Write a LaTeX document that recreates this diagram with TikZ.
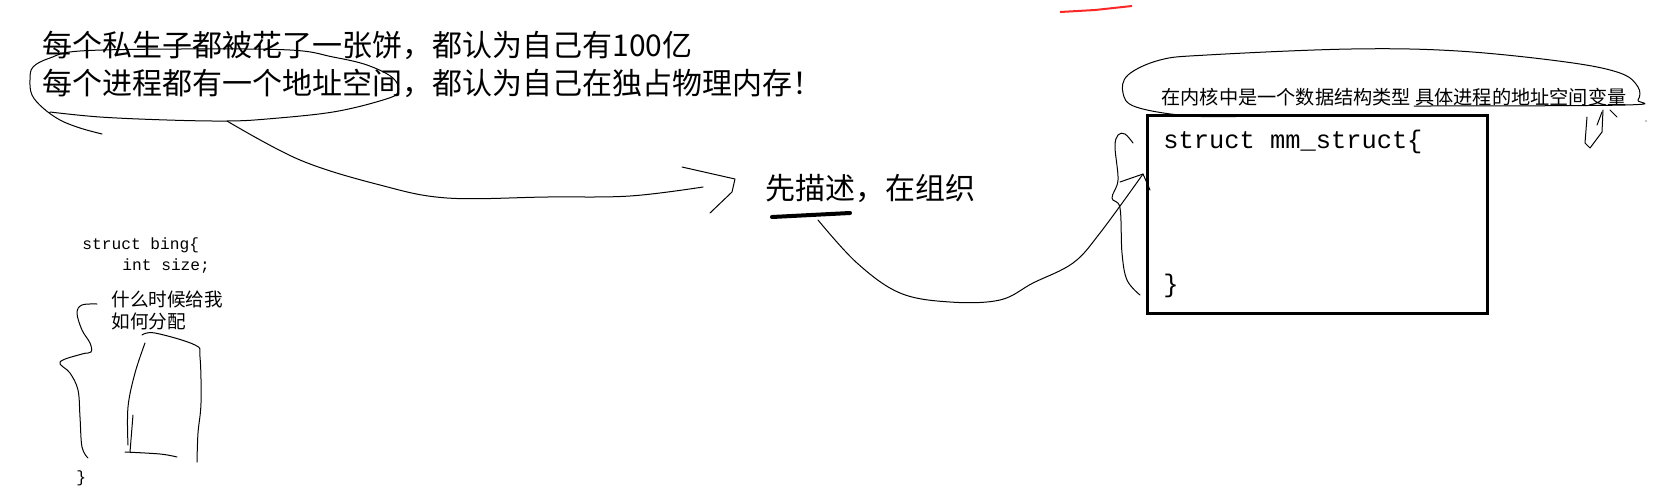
\documentclass[tikz,border=0pt]{standalone}
\usepackage{fontspec}
\setmonofont{Liberation Mono}
\newfontfamily\cjk{Noto Sans CJK SC}

\newcommand*{\picw}{1661}
\newcommand*{\pich}{494}

\begin{document}
\begin{tikzpicture}
[
	x=0.5pt, y=-0.5pt,
	pen/.style={line width=0.5pt, line cap=round, line join=round},
	bigtext/.style={anchor=west, inner sep=0pt, font=\cjk\fontsize{15}{18}\selectfont},
	smalltext/.style={anchor=west, inner sep=0pt, font=\cjk\fontsize{9.3}{11}\selectfont},
	codetext/.style={anchor=west, inner sep=0pt, font=\ttfamily\fontsize{12.7}{15}\selectfont},
	smallcode/.style={anchor=west, inner sep=0pt, font=\ttfamily\fontsize{8.1}{10}\selectfont}
]
	\useasboundingbox (0,0) rectangle (\picw,\pich);

	% sentences
	\node[bigtext] (cake) at (42,45) {每个私生子都被花了一张饼，都认为自己有100亿};
	\node[bigtext] (vspace) at (42,83) {每个进程都有一个地址空间，都认为自己在独占物理内存！};
	\node[bigtext] (order) at (765,188) {先描述，在组织};
	\draw[line width=2pt, line cap=round] (772,217) -- (850,213);

	% bubble round the second sentence
	\draw[pen] plot[smooth, tension=0.6] coordinates {
		(102,134) (80,128) (60,120) (43,108) (32,95) (30,80) (33,67) (50,58)
		(80,51) (180,49) (290,50) (333,57) (367,65) (393,78) (398,92) (383,100)
		(333,112) (267,119) (227,121) (167,120) (100,117) (50,112)};
	\coordinate (bubblefoot) at (227,121);
	\coordinate (ordertip) at (735,179);
	\draw[pen] plot[smooth, tension=0.6] coordinates {
		(bubblefoot) (300,160) (380,185) (447,198) (547,197) (630,196) (703,187)};
	\draw[pen] (682,167) -- (ordertip) -- (732,192) -- (710,213);

	% kernel struct
	\node[draw, line width=1.6pt, minimum width=170pt, minimum height=99pt,
		anchor=north west, inner sep=0pt] (mmbox) at (1146,114) {};
	\node[codetext] (mmhead) at (1163,142) {struct mm\_struct\{};
	\node[codetext] (mmtail) at (1163,286) {\}};
	\node[smalltext, font=\cjk\fontsize{9.6}{11}\selectfont] (kernel) at (1161,97)
		{在内核中是一个数据结构类型 具体进程的地址空间变量};

	\draw[pen] plot[smooth, tension=0.6] coordinates {
		(1258,116) (1190,116) (1136,107) (1123,93) (1128,75) (1160,60) (1207,55)
		(1351,49) (1458,51) (1566,62) (1620,73) (1638,87) (1638,100) (1625,105)
		(1414,106)};
	\draw[pen] (1587,117) -- (1585,143) -- (1590,148) -- (1602,132) -- (1603,110);
	\draw[pen] (1602,112) -- (1597,125);
	\draw[pen] (1610,110) -- (1617,117);
	\fill (1646,121) circle (0.6);

	% brace left of the box
	\draw[pen] plot[smooth, tension=0.6] coordinates {
		(1133,143) (1125,134) (1118,135) (1115,147) (1118,180) (1112,198)
		(1120,208) (1122,253) (1127,280) (1140,295)};

	% from the underline to the box
	\coordinate (orderfoot) at (818,220);
	\coordinate (mmtip) at (1143,174);
	\draw[pen] plot[smooth, tension=0.6] coordinates {
		(orderfoot) (857,263) (900,293) (950,302) (1000,300) (1033,283)
		(1073,263) (1100,233) (mmtip)};
	\draw[pen] (1120,182) -- (mmtip) -- (1147,183) -- (1150,190);

	% red stroke
	\draw[red!85, line width=1pt] (1060,12) -- (1095,10) -- (1132,6);

	% struct bing
	\node[smallcode] (bing) at (82,245) {struct bing\{};
	\node[smallcode] (bingsize) at (122,266) {int size;};
	\node[smalltext] (when) at (111,299) {什么时候给我};
	\node[smalltext] (how) at (111,321) {如何分配};
	\node[smallcode] (bingend) at (76,478) {\}};

	\draw[pen] plot[smooth, tension=0.6] coordinates {
		(97,304) (82,305) (77,313) (82,330) (90,343) (91,352) (82,354) (60,362)
		(70,373) (78,390) (80,417) (82,447) (88,458)};
	\draw[pen] plot[smooth, tension=0.6] coordinates {
		(142,335) (155,333) (195,345) (200,357) (201,403) (198,433) (197,462)};
	\draw[pen] plot[smooth, tension=0.6] coordinates {
		(145,343) (135,373) (128,407) (128,445)};
	\draw[pen] (133,415) -- (130,452);
	\draw[pen] plot[smooth, tension=0.6] coordinates {
		(125,452) (160,454) (177,457)};

\end{tikzpicture}
\end{document}
